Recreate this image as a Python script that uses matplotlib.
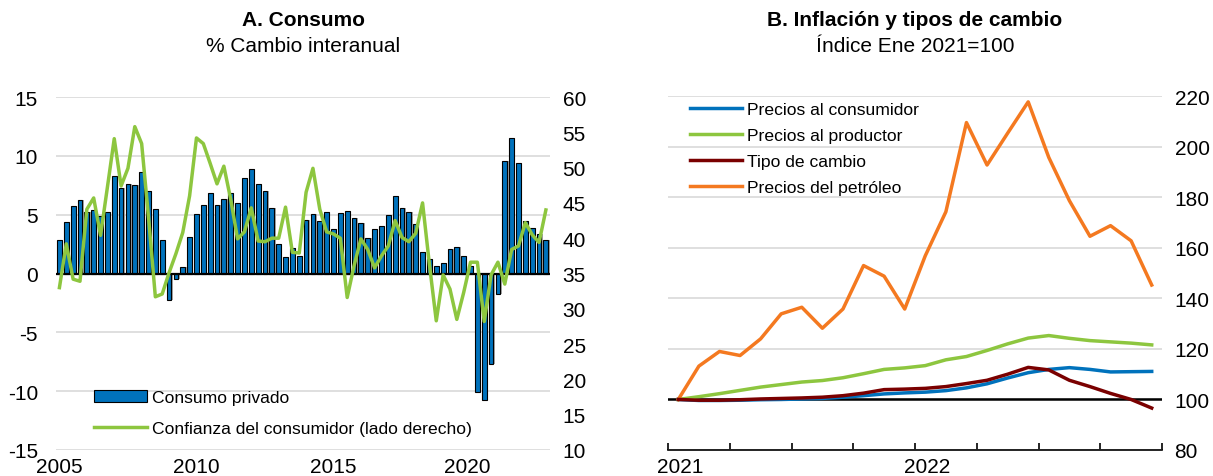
import matplotlib
matplotlib.use("Agg")
import matplotlib.pyplot as plt
from matplotlib import font_manager
import numpy as np

# ---- data: panel A (quarterly, 2005Q1 - 2022Q4) ----
consumo_privado = [
    2.84, 4.40, 5.74, 6.28, 5.20, 5.43, 4.86, 5.20,
    8.30, 7.24, 7.64, 7.53, 8.66, 6.99, 5.48, 2.84,
    -2.24, -0.43, 0.57, 3.13, 5.06, 5.80, 6.85, 5.80,
    6.36, 6.88, 6.02, 8.10, 8.89, 7.60, 7.00, 5.60,
    2.50, 1.42, 2.16, 1.45, 4.52, 5.09, 4.43, 5.23,
    3.75, 5.11, 5.31, 4.69, 4.29, 3.01, 3.78, 4.06,
    4.97, 6.59, 5.60, 5.23, 4.20, 1.85, 1.19, 0.65,
    0.91, 2.05, 2.27, 1.48, 0.60, -10.06, -10.77, -7.73,
    -1.76, 9.60, 11.53, 9.40, 4.43, 3.84, 3.35, 2.87,
]
confianza_consumidor = [
    33.0, 39.2, 34.2, 33.9, 44.1, 45.7, 40.4, 47.2,
    54.1, 47.4, 49.9, 55.8, 53.4, 43.0, 31.7, 32.1,
    35.1, 37.8, 40.8, 46.0, 54.2, 53.4, 50.6, 47.7,
    50.2, 45.5, 39.9, 40.9, 44.3, 39.6, 39.5, 40.0,
    40.0, 44.4, 38.0, 37.9, 46.5, 49.9, 44.1, 40.9,
    40.6, 40.0, 31.6, 36.1, 39.9, 38.4, 35.8, 37.5,
    38.9, 42.5, 40.1, 39.5, 40.7, 45.0, 36.3, 28.3,
    34.8, 32.8, 28.5, 32.3, 36.6, 36.6, 28.2, 34.8,
    36.6, 33.5, 38.4, 38.9, 42.2, 40.5, 39.4, 44.0,
]
years_a = ["2005", "2010", "2015", "2020"]

# ---- data: panel B (monthly, Jan 2021 - Dec 2022) ----
precios_consumidor = [100, 99.6, 99.6, 99.7, 99.9, 100.0, 100.2, 100.4, 100.9, 101.5, 102.2, 102.6,
                      102.9, 103.5, 104.6, 106.2, 108.5, 110.6, 111.9, 112.6, 111.9, 110.9, 111.0, 111.1]
precios_productor = [100, 101.1, 102.3, 103.6, 104.9, 105.9, 106.9, 107.5, 108.6, 110.2, 111.9, 112.5,
                     113.4, 115.7, 117.0, 119.4, 122.0, 124.3, 125.3, 124.2, 123.3, 122.8, 122.3, 121.6]
tipo_cambio = [100, 99.7, 99.7, 99.9, 100.2, 100.4, 100.6, 100.9, 101.5, 102.5, 103.9, 104.1,
               104.4, 105.1, 106.3, 107.6, 110.0, 112.7, 111.7, 107.6, 105.1, 102.4, 100.0, 96.6]
precios_petroleo = [100, 113.2, 119.0, 117.4, 124.0, 133.9, 136.5, 128.2, 135.8, 153.0, 148.8, 135.8,
                    156.9, 174.3, 209.6, 192.8, 205.4, 217.8, 195.8, 178.7, 164.6, 168.8, 162.8, 145.3]
years_b = ["2021", "2022"]

BLUE = "#0072BC"
GREEN = "#8DC63F"
DARKRED = "#7A0000"
ORANGE = "#F47920"
GRID = "#D9D9D9"

installed = {f.name for f in font_manager.fontManager.ttflist}
fams = [f for f in ["Liberation Sans Narrow", "Liberation Sans", "DejaVu Sans"] if f in installed]
plt.rcParams["font.family"] = fams
plt.rcParams["axes.unicode_minus"] = False
FS = 15     # ticks and titles
LFS = 12.6  # legends

fig = plt.figure(figsize=(12.13, 4.77), dpi=100)

# ---------------- Panel A ----------------
ax = fig.add_axes([56 / 1213, 26 / 477, 494 / 1213, 353 / 477])
x = np.arange(len(consumo_privado))
ax.bar(x + 0.2, consumo_privado, width=0.7, color="#A6A6A6", lw=0, zorder=2)
ax.bar(x, consumo_privado, width=0.7, color=BLUE, edgecolor="black", lw=0.8, zorder=3,
       label="Consumo privado")
ax.axhline(0, color="black", lw=1.6, zorder=4)
ax.set_ylim(-15, 15)
ax.set_yticks(range(-15, 16, 5))
ax.set_xlim(-0.5, 71.6)
ax.set_xticks([0, 20, 40, 59.5])
ax.set_xticklabels(years_a)
ax.grid(axis="y", color=GRID, lw=1.2, zorder=0)
ax.set_axisbelow(True)
for s in ax.spines.values():
    s.set_visible(False)
ax.tick_params(axis="y", length=0, labelsize=FS, pad=13)
ax.tick_params(axis="x", length=0, labelsize=FS, pad=5)

ax2 = ax.twinx()
ax2.plot(x, confianza_consumidor, color=GREEN, lw=2.5, zorder=5,
         label="Confianza del consumidor (lado derecho)")
ax2.set_ylim(10, 60)
ax2.set_yticks(range(10, 61, 5))
for s in ax2.spines.values():
    s.set_visible(False)
ax2.tick_params(axis="y", length=0, labelsize=FS, pad=9)

h1, l1 = ax.get_legend_handles_labels()
h2, l2 = ax2.get_legend_handles_labels()
ax2.legend(h1 + h2, l1 + l2, loc="lower left", bbox_to_anchor=(0.077, 0.04),
           frameon=False, fontsize=LFS, handlelength=3.0, handletextpad=0.3,
           labelspacing=0.9, borderpad=0, borderaxespad=0)

fig.text(303 / 1213, 1 - 20 / 477, "A. Consumo", ha="center", va="center",
         fontsize=FS, fontweight="bold")
fig.text(303 / 1213, 1 - 47 / 477, "% Cambio interanual", ha="center", va="center", fontsize=FS)

# ---------------- Panel B ----------------
bx = fig.add_axes([668 / 1213, 26 / 477, 494 / 1213, 353.7 / 477])
m = np.arange(len(precios_petroleo)) + 0.5
bx.plot(m, precios_consumidor, color=BLUE, lw=2.5, label="Precios al consumidor", zorder=4)
bx.plot(m, precios_productor, color=GREEN, lw=2.5, label="Precios al productor", zorder=4)
bx.plot(m, tipo_cambio, color=DARKRED, lw=2.5, label="Tipo de cambio", zorder=5)
bx.plot(m, precios_petroleo, color=ORANGE, lw=2.5, label="Precios del petróleo", zorder=4)
bx.axhline(100, color="black", lw=1.8, zorder=3)
bx.set_ylim(80, 220)
bx.set_yticks(range(80, 221, 20))
bx.set_xlim(0, 24)
bx.set_xticks([0.6, 12.6])
bx.set_xticklabels(years_b)
bx.set_xticks(range(0, 25, 3), minor=True)
bx.grid(axis="y", color=GRID, lw=1.2, zorder=0)
bx.set_axisbelow(True)
for k in ["left", "right", "top"]:
    bx.spines[k].set_visible(False)
bx.spines["bottom"].set_linewidth(1.2)
bx.yaxis.tick_right()
bx.tick_params(axis="y", length=0, labelsize=FS, pad=9)
bx.tick_params(axis="x", which="major", length=0, labelsize=FS, pad=5)
bx.tick_params(axis="x", which="minor", direction="in", length=5, width=1.2)
bx.legend(loc="upper left", bbox_to_anchor=(0.044, 0.985), frameon=False, fontsize=LFS,
          handlelength=3.0, handletextpad=0.3, labelspacing=0.62, borderpad=0, borderaxespad=0)

fig.text(915 / 1213, 1 - 20 / 477, "B. Inflación y tipos de cambio", ha="center", va="center",
         fontsize=FS, fontweight="bold")
fig.text(915 / 1213, 1 - 47 / 477, "Índice Ene 2021=100", ha="center", va="center", fontsize=FS)

fig.savefig("out.png", dpi=100)
